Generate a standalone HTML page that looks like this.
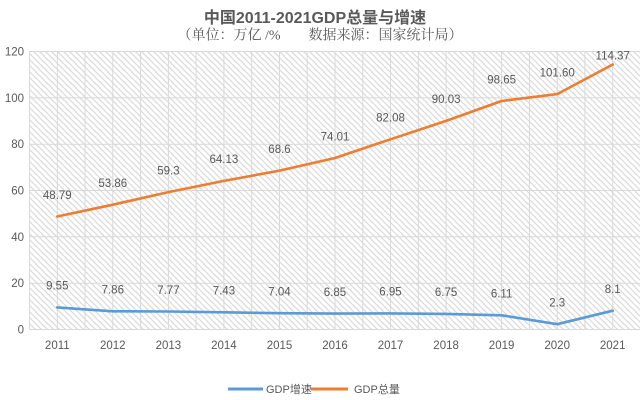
<!DOCTYPE html>
<html>
<head>
<meta charset="utf-8">
<style>
  html, body { margin: 0; padding: 0; background: #ffffff; }
  body { width: 640px; height: 400px; overflow: hidden; }
  svg { display: block; }
  .t { font-family: "Liberation Sans", "Noto Sans CJK SC", sans-serif; fill: #595959; }
  .s { font-family: "Liberation Serif", "Noto Serif CJK SC", serif; fill: #595959; }
</style>
</head>
<body>
<svg width="640" height="400" viewBox="0 0 640 400" xmlns="http://www.w3.org/2000/svg">
  <defs>
    <pattern id="hatch" patternUnits="userSpaceOnUse" width="6" height="6">
      <line x1="0" y1="0" x2="6" y2="6" stroke="#dadada" stroke-width="1.2"/>
      <line x1="-1" y1="5" x2="1" y2="7" stroke="#dadada" stroke-width="1.2"/>
      <line x1="5" y1="-1" x2="7" y2="1" stroke="#dadada" stroke-width="1.2"/>
    </pattern>
  </defs>
  <rect x="0" y="0" width="640" height="400" fill="#ffffff"/>

  <!-- Title -->
  <text class="t" x="315" y="23" font-size="16" font-weight="bold" text-anchor="middle">中国2011-2021GDP总量与增速</text>
  <text class="s" x="320" y="39.5" font-size="14" text-anchor="middle">（单位：万亿 /%　　数据来源：国家统计局）</text>

  <!-- Plot area hatch -->
  <rect x="29.5" y="51.5" width="611" height="278" fill="url(#hatch)"/>

  <!-- Horizontal gridlines -->
  <g stroke="#d9d9d9" stroke-width="1">
    <line x1="29.5" y1="51.5" x2="640" y2="51.5"/>
    <line x1="29.5" y1="97.8" x2="640" y2="97.8"/>
    <line x1="29.5" y1="144.2" x2="640" y2="144.2"/>
    <line x1="29.5" y1="190.5" x2="640" y2="190.5"/>
    <line x1="29.5" y1="236.8" x2="640" y2="236.8"/>
    <line x1="29.5" y1="283.2" x2="640" y2="283.2"/>
    <line x1="29.5" y1="329.5" x2="640" y2="329.5"/>
  </g>
  <!-- Vertical gridlines -->
  <g stroke="#d9d9d9" stroke-width="1">
    <line x1="29.5" y1="51.5" x2="29.5" y2="329.5"/>
    <line x1="57.3" y1="51.5" x2="57.3" y2="329.5"/>
    <line x1="85.0" y1="51.5" x2="85.0" y2="329.5"/>
    <line x1="112.8" y1="51.5" x2="112.8" y2="329.5"/>
    <line x1="140.6" y1="51.5" x2="140.6" y2="329.5"/>
    <line x1="168.4" y1="51.5" x2="168.4" y2="329.5"/>
    <line x1="196.1" y1="51.5" x2="196.1" y2="329.5"/>
    <line x1="223.9" y1="51.5" x2="223.9" y2="329.5"/>
    <line x1="251.7" y1="51.5" x2="251.7" y2="329.5"/>
    <line x1="279.5" y1="51.5" x2="279.5" y2="329.5"/>
    <line x1="307.2" y1="51.5" x2="307.2" y2="329.5"/>
    <line x1="335.0" y1="51.5" x2="335.0" y2="329.5"/>
    <line x1="362.8" y1="51.5" x2="362.8" y2="329.5"/>
    <line x1="390.5" y1="51.5" x2="390.5" y2="329.5"/>
    <line x1="418.3" y1="51.5" x2="418.3" y2="329.5"/>
    <line x1="446.1" y1="51.5" x2="446.1" y2="329.5"/>
    <line x1="473.8" y1="51.5" x2="473.8" y2="329.5"/>
    <line x1="501.6" y1="51.5" x2="501.6" y2="329.5"/>
    <line x1="529.4" y1="51.5" x2="529.4" y2="329.5"/>
    <line x1="557.2" y1="51.5" x2="557.2" y2="329.5"/>
    <line x1="584.9" y1="51.5" x2="584.9" y2="329.5"/>
    <line x1="612.7" y1="51.5" x2="612.7" y2="329.5"/>
  </g>

  <!-- Y axis labels -->
  <g class="t" font-size="11.5" text-anchor="end">
    <text x="24" y="55.5">120</text>
    <text x="24" y="101.8">100</text>
    <text x="24" y="148.2">80</text>
    <text x="24" y="194.5">60</text>
    <text x="24" y="240.8">40</text>
    <text x="24" y="287.2">20</text>
    <text x="24" y="333.5">0</text>
  </g>

  <!-- X axis labels -->
  <g class="t" font-size="11.5" text-anchor="middle">
    <text x="57.3" y="349">2011</text>
    <text x="112.8" y="349">2012</text>
    <text x="168.4" y="349">2013</text>
    <text x="223.9" y="349">2014</text>
    <text x="279.5" y="349">2015</text>
    <text x="335.0" y="349">2016</text>
    <text x="390.5" y="349">2017</text>
    <text x="446.1" y="349">2018</text>
    <text x="501.6" y="349">2019</text>
    <text x="557.2" y="349">2020</text>
    <text x="612.7" y="349">2021</text>
  </g>

  <!-- GDP total (orange) -->
  <polyline fill="none" stroke="#ed7d31" stroke-width="2.6" stroke-linejoin="round" stroke-linecap="round"
    points="57.3,216.5 112.8,204.7 168.4,192.1 223.9,180.9 279.5,170.6 335.0,158.0 390.5,139.3 446.1,120.9 501.6,101.0 557.2,94.1 612.7,64.5"/>

  <!-- GDP growth (blue) -->
  <polyline fill="none" stroke="#5b9bd5" stroke-width="2.6" stroke-linejoin="round" stroke-linecap="round"
    points="57.3,307.4 112.8,311.3 168.4,311.5 223.9,312.3 279.5,313.2 335.0,313.6 390.5,313.4 446.1,313.9 501.6,315.3 557.2,324.2 612.7,310.7"/>

  <!-- Orange data labels -->
  <g class="t" font-size="11.5" text-anchor="middle">
    <text x="57.3" y="198.8">48.79</text>
    <text x="112.8" y="187.0">53.86</text>
    <text x="168.4" y="174.4">59.3</text>
    <text x="223.9" y="163.2">64.13</text>
    <text x="279.5" y="152.9">68.6</text>
    <text x="335.0" y="140.3">74.01</text>
    <text x="390.5" y="121.6">82.08</text>
    <text x="446.1" y="103.2">90.03</text>
    <text x="501.6" y="83.3">98.65</text>
    <text x="557.2" y="76.4">101.60</text>
    <text x="612.7" y="59.3">114.37</text>
  </g>

  <!-- Blue data labels -->
  <g class="t" font-size="11.5" text-anchor="middle">
    <text x="57.3" y="289.7">9.55</text>
    <text x="112.8" y="293.6">7.86</text>
    <text x="168.4" y="293.8">7.77</text>
    <text x="223.9" y="294.6">7.43</text>
    <text x="279.5" y="295.5">7.04</text>
    <text x="335.0" y="295.9">6.85</text>
    <text x="390.5" y="295.7">6.95</text>
    <text x="446.1" y="296.2">6.75</text>
    <text x="501.6" y="297.6">6.11</text>
    <text x="557.2" y="306.5">2.3</text>
    <text x="612.7" y="293.0">8.1</text>
  </g>

  <!-- Legend -->
  <line x1="228" y1="389" x2="263" y2="389" stroke="#5b9bd5" stroke-width="3"/>
  <text class="t" x="266" y="393" font-size="11">GDP增速</text>
  <line x1="311" y1="389" x2="348" y2="389" stroke="#ed7d31" stroke-width="3"/>
  <text class="t" x="354" y="393" font-size="11">GDP总量</text>
</svg>
</body>
</html>
